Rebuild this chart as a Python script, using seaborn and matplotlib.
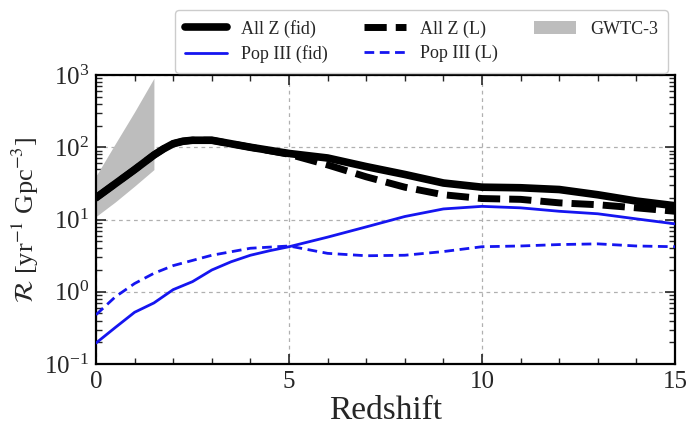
import numpy as np
import pandas as pd
import matplotlib
matplotlib.use("Agg")
import matplotlib.pyplot as plt
import seaborn as sns
from matplotlib.ticker import LogLocator, LogFormatterSciNotation, MultipleLocator

# ---- data ----
z_allz_fid = [0, 1, 1.5, 1.75, 2, 2.25, 2.5, 3, 4, 5, 6, 7, 8, 9, 10, 11, 12, 13, 14, 15]
r_allz_fid = [20, 49, 78, 95, 112, 121, 125, 125, 100, 82, 71, 54, 42, 32, 28, 27.5, 26, 22, 18, 15.5]

z_allz_L = [0, 1, 1.5, 1.75, 2, 2.25, 2.5, 3, 4, 5, 6, 7, 8, 9, 10, 11, 12, 13, 14, 15]
r_allz_L = [20, 49, 78, 95, 112, 121, 125, 125, 100, 80, 57, 39, 28, 22, 19.5, 19, 17, 16, 14.5, 13]

z_pop3_fid = [0, 0.5, 1, 1.5, 2, 2.5, 3, 3.5, 4, 4.5, 5, 6, 7, 8, 9, 10, 11, 12, 13, 14, 15]
r_pop3_fid = [0.195, 0.32, 0.52, 0.7, 1.07, 1.38, 2.0, 2.6, 3.2, 3.7, 4.2, 5.7, 7.9, 11, 14, 15.2, 14.5, 13, 12, 10.2, 8.7]

z_pop3_L = [0, 0.5, 1, 1.5, 2, 3, 4, 5, 6, 7, 8, 9, 10, 11, 12, 13, 14, 15]
r_pop3_L = [0.48, 0.85, 1.3, 1.8, 2.3, 3.2, 4.0, 4.3, 3.4, 3.15, 3.2, 3.6, 4.2, 4.3, 4.5, 4.6, 4.3, 4.2]

z_gwtc = [0, 0.5, 1, 1.5]
r_gwtc_lo = [11, 17.5, 29, 49]
r_gwtc_hi = [40, 112, 310, 900]

labels = ["All Z (fid)", "Pop III (fid)", "All Z (L)", "Pop III (L)", "GWTC-3"]

# ---- style ----
sns.set_style("ticks")
plt.rcParams["font.family"] = ["Liberation Serif", "DejaVu Serif"]
plt.rcParams["mathtext.fontset"] = "stix"

fig = plt.figure(figsize=(6.86, 4.26), dpi=100)
ax = fig.add_axes([96 / 686, (426 - 364) / 426, (675 - 96) / 686, (364 - 75) / 426])

h_gw = ax.fill_between(z_gwtc, r_gwtc_lo, r_gwtc_hi, color="#bdbdbd", lw=0, zorder=1)

sns.lineplot(x=z_allz_fid, y=r_allz_fid, ax=ax, color="black", lw=5.5, zorder=3)
sns.lineplot(x=z_allz_L, y=r_allz_L, ax=ax, color="black", lw=5, ls=(0, (3.2, 1.3)), zorder=3)
sns.lineplot(x=z_pop3_fid, y=r_pop3_fid, ax=ax, color="#1515f0", lw=2, zorder=3)
sns.lineplot(x=z_pop3_L, y=r_pop3_L, ax=ax, color="#1515f0", lw=2, ls=(0, (3.5, 2)), zorder=3)

lines = ax.get_lines()
h_fid, h_L, h_p3f, h_p3L = lines[0], lines[1], lines[2], lines[3]

ax.set_yscale("log")
ax.set_xlim(0, 15)
ax.set_ylim(0.1, 1000)

ax.xaxis.set_major_locator(MultipleLocator(5))
ax.xaxis.set_minor_locator(MultipleLocator(1))
ax.yaxis.set_major_locator(LogLocator(base=10, numticks=10))
ax.yaxis.set_minor_locator(LogLocator(base=10, subs=np.arange(2, 10), numticks=20))
ax.yaxis.set_major_formatter(LogFormatterSciNotation())

ax.tick_params(which="both", direction="in", top=True, right=True, labelsize=18, pad=5)
ax.tick_params(which="major", length=7, width=1.2)
ax.tick_params(which="minor", length=4, width=1.0)
for s in ax.spines.values():
    s.set_linewidth(1.6)
    s.set_color("black")

ax.grid(True, which="major", ls=(0, (3, 3)), color="#b0b0b0", lw=0.9)

ax.set_xlabel("Redshift", fontsize=24, labelpad=2)
ax.set_ylabel(r"$\mathcal{R}$ [yr$^{-1}$ Gpc$^{-3}$]", fontsize=19, labelpad=2)

leg = fig.legend([h_fid, h_p3f, h_L, h_p3L, h_gw], labels, ncol=3, loc="upper right",
                 bbox_to_anchor=(668 / 686, 1 - 10 / 426), borderaxespad=0, fontsize=13,
                 frameon=True, handlelength=2.3, columnspacing=2.0, handletextpad=0.8,
                 borderpad=0.55, labelspacing=0.4, fancybox=True, framealpha=1)
leg.get_frame().set_edgecolor("#cccccc")
leg.set_zorder(10)

fig.savefig("out.png", dpi=100)
